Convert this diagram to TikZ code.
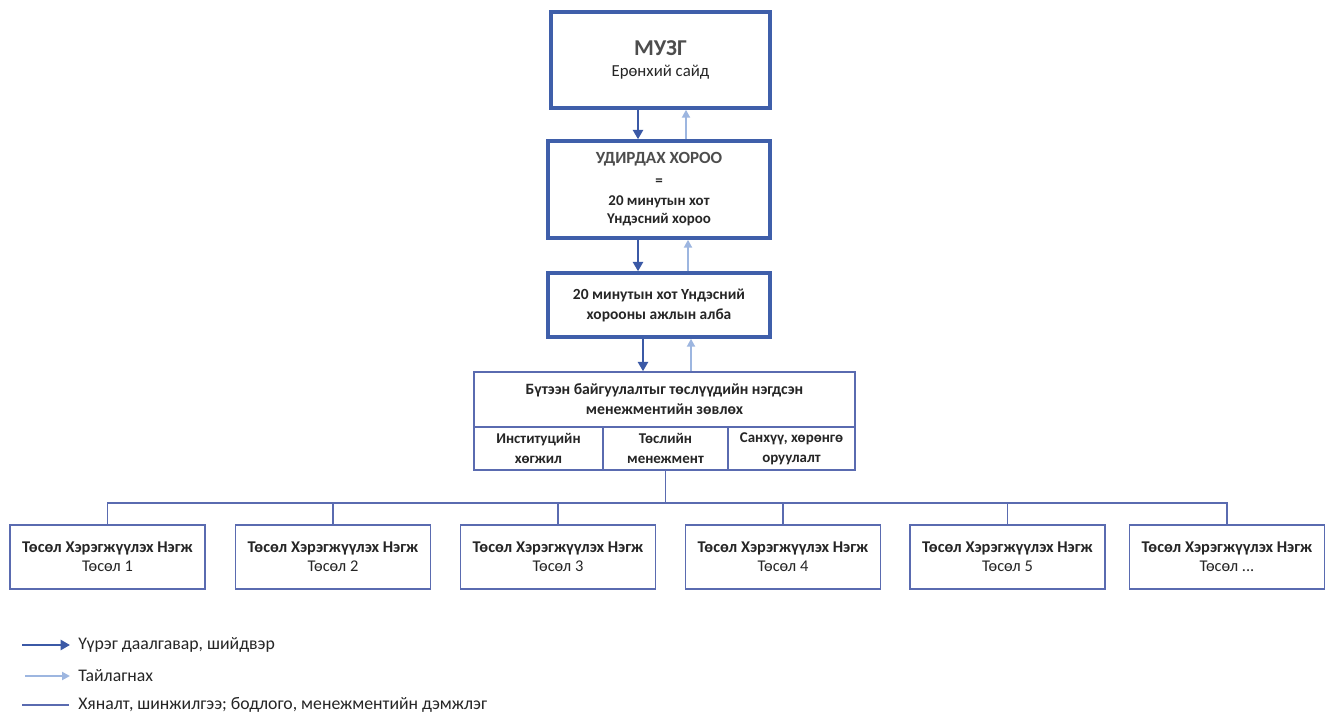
\documentclass[tikz,border=0pt]{standalone}
\usepackage{fontspec}
\setmainfont{Carlito}
\usetikzlibrary{arrows.meta,positioning,calc}
\definecolor{thickblue}{HTML}{3F5FAA}
\definecolor{thinblue}{HTML}{5A6BB0}
\definecolor{lightblue}{HTML}{9DB6E0}
\definecolor{darkarrow}{HTML}{3B59A6}
\definecolor{txt}{HTML}{262626}
\definecolor{headtxt}{HTML}{4D4D4D}
\newcommand{\mydots}{...}
\tikzset{
  topbox/.style={draw=thickblue, line width=2.6pt, fill=white, inner sep=0pt, align=center, text=txt},
  thinbox/.style={draw=thinblue, line width=1.1pt, fill=white, inner sep=0pt, align=center, text=txt},
  downarrow/.style={draw=darkarrow, line width=2.2pt, -{Triangle[length=7pt,width=7.5pt]}},
  uparrow/.style={draw=lightblue, line width=1.6pt, -{Triangle[length=6pt,width=6pt]}},
  treeline/.style={draw=thinblue, line width=1pt},
  legtext/.style={anchor=west, inner sep=0pt, text=txt, font=\fontsize{13.3}{15}\selectfont},
}
\begin{document}
\begin{tikzpicture}[x=0.75pt,y=-0.75pt]
\useasboundingbox[fill=white] (0,0) rectangle (1332,713);

% top boxes
\node[topbox, minimum width=219*0.75pt, minimum height=96*0.75pt] (muzg) at (660.5,60)
  {{\fontsize{17}{18}\selectfont\bfseries\color{headtxt}МУЗГ}\\[4pt]{\fontsize{12.6}{15}\selectfont Ерөнхий сайд}};
\node[topbox, minimum width=222*0.75pt, minimum height=97*0.75pt, font=\fontsize{11.2}{14}\selectfont\bfseries] (ud) at (659,189.5)
  {{\fontsize{12.8}{14}\selectfont\color{headtxt}УДИРДАХ ХОРОО}\\[2pt]=\\[1pt]20 минутын хот\\Үндэсний хороо};
\node[topbox, minimum width=222*0.75pt, minimum height=64*0.75pt, font=\fontsize{11.6}{15}\selectfont\bfseries] (alba) at (659,305)
  {20 минутын хот Үндэсний\\хорооны ажлын алба};

% advisory block
\node[thinbox, minimum width=381*0.75pt, minimum height=55*0.75pt, font=\fontsize{11.8}{15}\selectfont\bfseries] (zovloh) at (664.5,399.5)
  {Бүтээн байгуулалтыг төслүүдийн нэгдсэн\\менежментийн зөвлөх};
\node[thinbox, minimum width=129*0.75pt, minimum height=43*0.75pt, font=\fontsize{11.2}{15}\selectfont\bfseries] (s1) at (538.5,448.5)
  {Институцийн\\хөгжил};
\node[thinbox, minimum width=125*0.75pt, minimum height=43*0.75pt, font=\fontsize{11.2}{15}\selectfont\bfseries] (s2) at (665.5,448.5)
  {Төслийн\\менежмент};
\node[thinbox, minimum width=127*0.75pt, minimum height=43*0.75pt, font=\fontsize{11.2}{15}\selectfont\bfseries] (s3) at (791.5,448.5)
  {Санхүү, хөрөнгө\\оруулалт};

% arrows between top boxes
\draw[downarrow] (muzg.south -| 638,0) -- (ud.north -| 638,0);
\draw[uparrow] (ud.north -| 686,0) -- (muzg.south -| 686,0);
\draw[downarrow] (ud.south -| 638,0) -- (alba.north -| 638,0);
\draw[uparrow] (alba.north -| 688,0) -- (ud.south -| 688,0);
\draw[downarrow] (alba.south -| 643,0) -- (zovloh.north -| 643,0);
\draw[uparrow] (zovloh.north -| 691,0) -- (alba.south -| 691,0);

% project implementation units
\foreach \i/\x/\lab in {1/107.5/1, 2/333/2, 3/558/3, 4/783/4, 5/1007.5/5, 6/1227/\mydots}{
  \node[thinbox, minimum width=195*0.75pt, minimum height=64*0.75pt, font=\fontsize{12.3}{14.5}\selectfont] (p\i) at (\x,557)
    {\textbf{Төсөл Хэрэгжүүлэх Нэгж}\\Төсөл \lab};
}
\coordinate (bus) at (672,503);
\draw[treeline] (s2.south) -- (s2.south |- bus);
\draw[treeline] (p1.north) -- (p1.north |- bus) -- (p6.north |- bus) -- (p6.north);
\foreach \i in {2,3,4,5}{
  \draw[treeline] (p\i.north) -- (p\i.north |- bus);
}

% legend
\node[legtext] (l1) at (78,645) {Үүрэг даалгавар, шийдвэр};
\node[legtext] (l2) at (78,676) {Тайлагнах};
\node[legtext] (l3) at (78,705) {Хяналт, шинжилгээ; бодлого, менежментийн дэмжлэг};
\coordinate (a1) at (22,645);
\coordinate (a2) at (25,676);
\coordinate (a3) at (22,705);
\draw[downarrow, line width=2.2pt] (a1) -- ([xshift=-6pt]l1.west);
\draw[uparrow, line width=1.8pt] (a2) -- ([xshift=-6pt]l2.west);
\draw[treeline] (a3) -- ([xshift=-7pt]l3.west);
\end{tikzpicture}
\end{document}
